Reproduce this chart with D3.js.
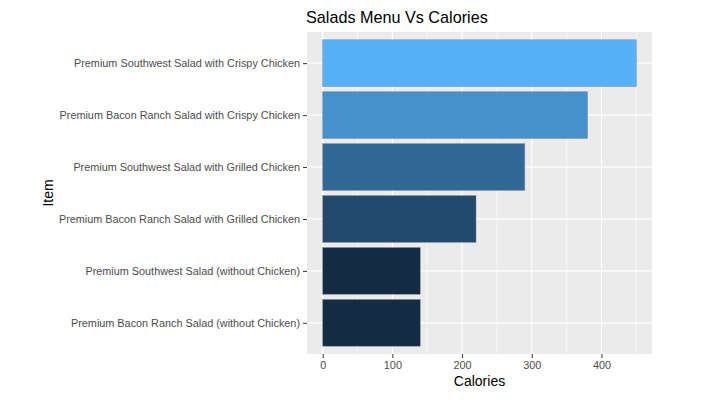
<!DOCTYPE html>
<html><head><meta charset="utf-8">
<script src="https://cdn.jsdelivr.net/npm/d3@7"></script>
<style>body{margin:0;background:#fff;} text{font-family:"Liberation Sans",Arial,sans-serif;}</style>
</head><body>
<svg id="c" width="710" height="417"></svg>
<script>
const items = [
  "Premium Southwest Salad with Crispy Chicken",
  "Premium Bacon Ranch Salad with Crispy Chicken",
  "Premium Southwest Salad with Grilled Chicken",
  "Premium Bacon Ranch Salad with Grilled Chicken",
  "Premium Southwest Salad (without Chicken)",
  "Premium Bacon Ranch Salad (without Chicken)"
];
const calories = [450, 380, 290, 220, 140, 140];
const xTicks = [0, 100, 200, 300, 400];
const xMinor = [50, 150, 250, 350, 450];

const svg = d3.select("#c");
const L = 307, R = 652, T = 32, B = 354;
const maxV = d3.max(calories);
const x = d3.scaleLinear().domain([-0.05*maxV, 1.05*maxV]).range([L, R]);
// ggplot: categories at positions 1..6 with 0.6 expansion; bar width 0.9
const yPos = d3.scaleLinear().domain([0.4, items.length + 0.6]).range([T, B]);
const color = d3.scaleLinear().domain([d3.min(calories), maxV]).range(["#132B43", "#56B1F7"]).interpolate(d3.interpolateLab);

svg.append("rect").attr("x", L).attr("y", T).attr("width", R - L).attr("height", B - T).attr("fill", "#EBEBEB");
const g = svg.append("g");
xMinor.forEach(v => g.append("line").attr("x1", x(v)).attr("x2", x(v)).attr("y1", T).attr("y2", B).attr("stroke", "#fff").attr("stroke-width", 0.6));
xTicks.forEach(v => g.append("line").attr("x1", x(v)).attr("x2", x(v)).attr("y1", T).attr("y2", B).attr("stroke", "#fff").attr("stroke-width", 1.2));
items.forEach((d, i) => g.append("line").attr("x1", L).attr("x2", R).attr("y1", yPos(i + 1)).attr("y2", yPos(i + 1)).attr("stroke", "#fff").attr("stroke-width", 1.2));

const bw = yPos(1.45) - yPos(0.55);
svg.append("g").selectAll("rect").data(items).join("rect")
  .attr("x", x(0)).attr("y", (d, i) => yPos(i + 1) - bw / 2)
  .attr("width", (d, i) => x(calories[i]) - x(0)).attr("height", bw)
  .attr("fill", (d, i) => color(calories[i]))
  .attr("stroke", "#7f8a94").attr("stroke-width", 0.6).attr("stroke-opacity", 0.8);

// x axis
const xa = svg.append("g").attr("transform", `translate(0,${B})`)
  .call(d3.axisBottom(x).tickValues(xTicks).tickSize(4).tickSizeOuter(0).tickPadding(3));
xa.select(".domain").remove();
xa.selectAll("line").attr("stroke", "#333");
xa.selectAll("text").attr("fill", "#4D4D4D").style("font-size", "10.85px");

// y axis
const ya = svg.append("g").attr("transform", `translate(${L},0)`)
  .call(d3.axisLeft(d3.scalePoint().domain(items).range([yPos(1), yPos(items.length)])).tickSize(4).tickSizeOuter(0).tickPadding(3));
ya.select(".domain").remove();
ya.selectAll("line").attr("stroke", "#333");
ya.selectAll("text").attr("fill", "#4D4D4D").style("font-size", "10.85px");

svg.append("text").attr("x", (L + R) / 2).attr("y", 386).attr("text-anchor", "middle")
  .style("font-size", "14px").attr("fill", "#000").text("Calories");
svg.append("text").attr("transform", `translate(53,${(T + B) / 2}) rotate(-90)`).attr("text-anchor", "middle")
  .style("font-size", "14px").attr("fill", "#000").text("Item");
svg.append("text").attr("x", L - 1).attr("y", 23).style("font-size", "16.2px").attr("fill", "#000").text("Salads Menu Vs Calories");
</script>
</body></html>
